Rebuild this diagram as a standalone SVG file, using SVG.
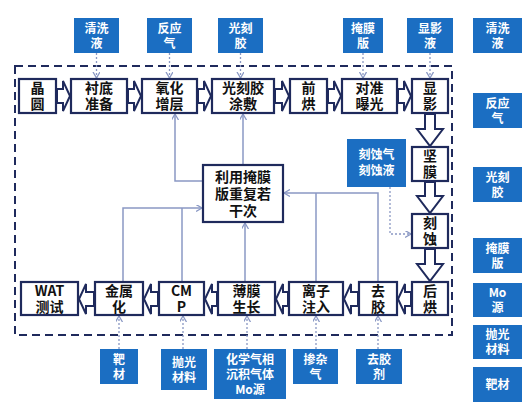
<svg xmlns="http://www.w3.org/2000/svg" width="531" height="410" viewBox="0 0 531 410">
<style>
.node rect{fill:#fff;stroke:#1f2a5c;stroke-width:2.2}
.node text{font-family:"Noto Sans CJK SC","Liberation Sans",sans-serif;font-size:14px;font-weight:700;fill:#111;text-anchor:middle}
.inp rect{fill:#1b6ec2}
.inp text{font-family:"Noto Sans CJK SC","Liberation Sans",sans-serif;font-size:12px;font-weight:700;fill:#fff;text-anchor:middle}
.blk{fill:#fff;stroke:#1f2a5c;stroke-width:2;stroke-linejoin:miter}
.dot{fill:none;stroke:#8a98c4;stroke-width:1.3;stroke-dasharray:2,2}
.fb{fill:none;stroke:#8a98c4;stroke-width:1.5}
.frame{fill:none;stroke:#1f2a5c;stroke-width:2;stroke-dasharray:8,5}
</style>
<defs>
<marker id="ah" markerWidth="8" markerHeight="8" refX="6" refY="3.5" orient="auto" markerUnits="userSpaceOnUse">
<path d="M0,0 L6,3.5 L0,7" fill="none" stroke="#8a98c4" stroke-width="1.3"/>
</marker>
</defs>

<rect class="frame" x="15" y="66" width="437" height="269"/>

<g id="connectors">
<!-- block arrows top row (right) -->
<path class="blk" d="M57,89 L63,89 L63,81 L70,96 L63,111 L63,103 L57,103 Z"/>
<path class="blk" d="M128,89 L134,89 L134,81 L141,96 L134,111 L134,103 L128,103 Z"/>
<path class="blk" d="M198,89 L204,89 L204,81 L211,96 L204,111 L204,103 L198,103 Z"/>
<path class="blk" d="M275,89 L282,89 L282,81 L289,96 L282,111 L282,103 L275,103 Z"/>
<path class="blk" d="M328,89 L334,89 L334,81 L341,96 L334,111 L334,103 L328,103 Z"/>
<path class="blk" d="M398,89 L404,89 L404,81 L411,96 L404,111 L404,103 L398,103 Z"/>
<!-- down arrows -->
<path class="blk" d="M425,114 L435,114 L435,129 L443,129 L430,146 L417,129 L425,129 Z"/>
<path class="blk" d="M425,182 L435,182 L435,196 L443,196 L430,213 L417,196 L425,196 Z"/>
<path class="blk" d="M425,249 L435,249 L435,264 L443,264 L430,281 L417,264 L425,264 Z"/>
<!-- bottom row (left) -->
<path class="blk" d="M411,292 L405,292 L405,284 L398,299 L405,314 L405,306 L411,306 Z"/>
<path class="blk" d="M358,292 L351,292 L351,284 L344,299 L351,314 L351,306 L358,306 Z"/>
<path class="blk" d="M288,292 L283,292 L283,284 L276,299 L283,314 L283,306 L288,306 Z"/>
<path class="blk" d="M217,292 L212,292 L212,284 L205,299 L212,314 L212,306 L217,306 Z"/>
<path class="blk" d="M158,292 L151,292 L151,284 L144,299 L151,314 L151,306 L158,306 Z"/>
<path class="blk" d="M94,292 L86,292 L86,284 L79,299 L86,314 L86,306 L94,306 Z"/>
<!-- dotted from top inputs -->
<path class="dot" d="M96.5,53 V78" marker-end="url(#ah)"/>
<path class="dot" d="M169.5,53 V78" marker-end="url(#ah)"/>
<path class="dot" d="M240.5,53 V78" marker-end="url(#ah)"/>
<path class="dot" d="M363,53 V78" marker-end="url(#ah)"/>
<path class="dot" d="M430,53 V78" marker-end="url(#ah)"/>
<!-- etch -->
<path class="dot" d="M390,187 V234 H411" marker-end="url(#ah)"/>
<!-- dotted from bottom inputs -->
<path class="dot" d="M119,349 V316" marker-end="url(#ah)"/>
<path class="dot" d="M183,349 V316" marker-end="url(#ah)"/>
<path class="dot" d="M247,349 V316" marker-end="url(#ah)"/>
<path class="dot" d="M316,349 V316" marker-end="url(#ah)"/>
<path class="dot" d="M378,349 V316" marker-end="url(#ah)"/>
<!-- feedback -->
<path class="fb" d="M203,181 H175 V114" marker-end="url(#ah)"/>
<path class="fb" d="M243,165 V114" marker-end="url(#ah)"/>
<path class="fb" d="M123,282 V208 H202" marker-end="url(#ah)"/>
<path class="fb" d="M182,282 V208"/>
<path class="fb" d="M245,282 V223" marker-end="url(#ah)"/>
<path class="fb" d="M378,282 V193 H284" marker-end="url(#ah)"/>
<path class="fb" d="M316,282 V193"/>
</g>

<!-- top process row -->
<g id="n-jingyuan" class="node"><rect x="19" y="79" width="37" height="34"/><text x="37.5" y="93">晶</text><text x="37.5" y="109">圆</text></g>
<g id="n-chendi" class="node"><rect x="71" y="79" width="56" height="34"/><text x="99" y="93">衬底</text><text x="99" y="109">准备</text></g>
<g id="n-yanghua" class="node"><rect x="142" y="79" width="55" height="34"/><text x="169.5" y="93">氧化</text><text x="169.5" y="109">增层</text></g>
<g id="n-tujiao" class="node"><rect x="212" y="79" width="62" height="34"/><text x="243" y="93">光刻胶</text><text x="243" y="109">涂敷</text></g>
<g id="n-qianhong" class="node"><rect x="290" y="79" width="37" height="34"/><text x="308.5" y="93">前</text><text x="308.5" y="109">烘</text></g>
<g id="n-baoguang" class="node"><rect x="342" y="79" width="55" height="34"/><text x="369.5" y="93">对准</text><text x="369.5" y="109">曝光</text></g>
<g id="n-xianying" class="node"><rect x="412" y="79" width="36" height="34"/><text x="430" y="93">显</text><text x="430" y="109">影</text></g>
<!-- right column -->
<g id="n-jianmo" class="node"><rect x="412" y="147" width="36" height="34"/><text x="430" y="161">坚</text><text x="430" y="177">膜</text></g>
<g id="n-keshi" class="node"><rect x="412" y="214" width="36" height="34"/><text x="430" y="228">刻</text><text x="430" y="244">蚀</text></g>
<g id="n-houhong" class="node"><rect x="412" y="282" width="36" height="33"/><text x="430" y="295.5">后</text><text x="430" y="311.5">烘</text></g>
<!-- bottom row -->
<g id="n-qujiao" class="node"><rect x="359" y="282" width="38" height="33"/><text x="378" y="295.5">去</text><text x="378" y="311.5">胶</text></g>
<g id="n-lizi" class="node"><rect x="289" y="282" width="54" height="33"/><text x="316" y="295.5">离子</text><text x="316" y="311.5">注入</text></g>
<g id="n-bomo" class="node"><rect x="218" y="282" width="57" height="33"/><text x="246.5" y="295.5">薄膜</text><text x="246.5" y="311.5">生长</text></g>
<g id="n-cmp" class="node"><rect x="159" y="282" width="45" height="33"/><text x="181.5" y="295.5">CM</text><text x="181.5" y="311.5">P</text></g>
<g id="n-jinshu" class="node"><rect x="95" y="282" width="48" height="33"/><text x="119" y="295.5">金属</text><text x="119" y="311.5">化</text></g>
<g id="n-wat" class="node"><rect x="21" y="282" width="57" height="33"/><text x="49.5" y="295.5">WAT</text><text x="49.5" y="311.5">测试</text></g>
<!-- center -->
<g id="n-repeat" class="node"><rect x="203" y="165" width="80" height="57"/><text x="243" y="182">利用掩膜</text><text x="243" y="199">版重复若</text><text x="243" y="216">干次</text></g>

<!-- input boxes top -->
<g id="i-qingxi" class="inp"><rect x="74" y="18" width="45" height="35"/><text x="96.5" y="33">清洗</text><text x="96.5" y="48">液</text></g>
<g id="i-fanying" class="inp"><rect x="147" y="18" width="45" height="35"/><text x="169.5" y="33">反应</text><text x="169.5" y="48">气</text></g>
<g id="i-guangkejiao" class="inp"><rect x="218" y="18" width="45" height="35"/><text x="240.5" y="33">光刻</text><text x="240.5" y="48">胶</text></g>
<g id="i-yanmo" class="inp"><rect x="343" y="18" width="40" height="35"/><text x="363" y="33">掩膜</text><text x="363" y="48">版</text></g>
<g id="i-xianyingye" class="inp"><rect x="407" y="18" width="46" height="35"/><text x="430" y="33">显影</text><text x="430" y="48">液</text></g>
<g id="i-keshi" class="inp"><rect x="347" y="139" width="59" height="48"/><text x="376.5" y="159">刻蚀气</text><text x="376.5" y="175">刻蚀液</text></g>
<!-- input boxes bottom -->
<g id="i-bacai" class="inp"><rect x="100" y="349" width="38" height="35"/><text x="119" y="364">靶</text><text x="119" y="379">材</text></g>
<g id="i-paoguang" class="inp"><rect x="161" y="349" width="46" height="41"/><text x="184" y="367">抛光</text><text x="184" y="382">材料</text></g>
<g id="i-cvd" class="inp"><rect x="214" y="349" width="72" height="50"/><text x="250" y="364">化学气相</text><text x="250" y="379">沉积气体</text><text x="250" y="394">Mo源</text></g>
<g id="i-chanza" class="inp"><rect x="293" y="349" width="45" height="35"/><text x="315.5" y="364">掺杂</text><text x="315.5" y="379">气</text></g>
<g id="i-qujiaoji" class="inp"><rect x="356" y="349" width="46" height="35"/><text x="379" y="364">去胶</text><text x="379" y="379">剂</text></g>
<!-- legend column -->
<g id="l-qingxi" class="inp"><rect x="473" y="18" width="49" height="35"/><text x="497.5" y="33">清洗</text><text x="497.5" y="48">液</text></g>
<g id="l-fanying" class="inp"><rect x="473" y="93" width="49" height="35"/><text x="497.5" y="108">反应</text><text x="497.5" y="123">气</text></g>
<g id="l-guangkejiao" class="inp"><rect x="473" y="167" width="49" height="35"/><text x="497.5" y="182">光刻</text><text x="497.5" y="197">胶</text></g>
<g id="l-yanmo" class="inp"><rect x="473" y="238" width="49" height="35"/><text x="497.5" y="253">掩膜</text><text x="497.5" y="268">版</text></g>
<g id="l-mo" class="inp"><rect x="473" y="283" width="49" height="34"/><text x="497.5" y="297">Mo</text><text x="497.5" y="312">源</text></g>
<g id="l-paoguang" class="inp"><rect x="473" y="325" width="49" height="34"/><text x="497.5" y="339">抛光</text><text x="497.5" y="354">材料</text></g>
<g id="l-bacai" class="inp"><rect x="473" y="367" width="49" height="35"/><text x="497.5" y="389">靶材</text></g>
</svg>
